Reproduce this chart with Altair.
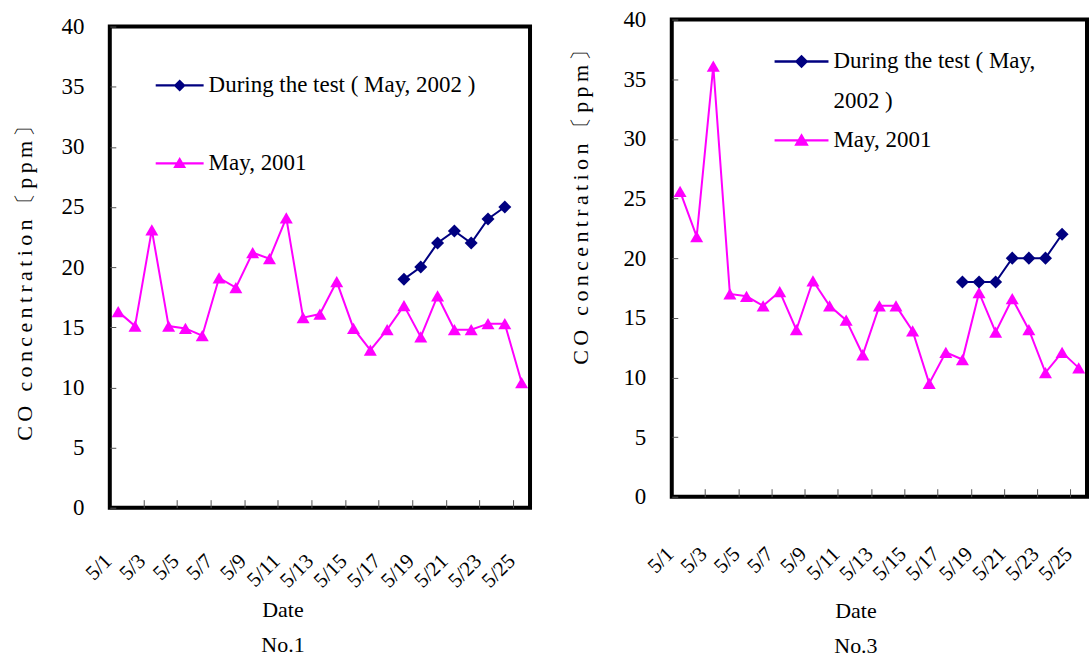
import json
import altair as alt
import pandas as pd

# ---------------- data ----------------
dates = ["5/1", "5/2", "5/3", "5/4", "5/5", "5/6", "5/7", "5/8", "5/9", "5/10",
         "5/11", "5/12", "5/13", "5/14", "5/15", "5/16", "5/17", "5/18", "5/19",
         "5/20", "5/21", "5/22", "5/23", "5/24", "5/25"]
days = [1, 2, 3, 4, 5, 6, 7, 8, 9, 10, 11, 12, 13, 14, 15, 16, 17, 18, 19, 20,
        21, 22, 23, 24, 25]
test_days = [18, 19, 20, 21, 22, 23, 24]

no1_may2001 = [16.3, 15.1, 23.1, 15.1, 14.9, 14.3, 19.1, 18.3, 21.2, 20.7, 24.1,
               15.8, 16.1, 18.8, 14.9, 13.1, 14.8, 16.8, 14.2, 17.6, 14.8, 14.8,
               15.3, 15.3, 10.4]
no1_test2002 = [19.0, 20.0, 22.0, 23.0, 22.0, 24.0, 25.0]

no3_may2001 = [25.6, 21.8, 36.1, 17.0, 16.8, 16.0, 17.2, 14.0, 18.1, 16.0, 14.8,
               11.9, 16.0, 16.0, 13.9, 9.5, 12.1, 11.5, 17.1, 13.8, 16.6, 14.0,
               10.4, 12.1, 10.8]
no3_test2002 = [18.0, 18.0, 18.0, 20.0, 20.0, 20.0, 22.0]

S_TEST = "During the test ( May, 2002 )"
S_2001 = "May, 2001"
series_names = [S_TEST, S_2001]
series_colors = ["#000080", "#FF00FF"]
series_shapes = ["diamond", "triangle-up"]
legend_paths = [
    "M-1,-0.045L1,-0.045L1,0.045L-1,0.045Z M0,-0.25L0.25,0L0,0.25L-0.25,0Z",
    "M-1,-0.045L1,-0.045L1,0.045L-1,0.045Z M0,-0.26L0.27,0.2L-0.27,0.2Z",
]
y_ticks = [0, 5, 10, 15, 20, 25, 30, 35, 40]

FONT = "Liberation Serif"
label_days = days[::2]
tick_days = [d + 0.5 for d in days[1:-1:2]]
axis_values = sorted(label_days + tick_days)
label_expr = "datum.value % 1 == 0 ? " + json.dumps(dates) + "[datum.value - 1] : ''"
y_title = "\u2009".join(list("CO concentration\u3014ppm\u3015"))


def panel(v2001, v2002, number, width, height, lab_pad, title_x, title_y,
          ytitle_pad, ytitle_y, lg_x, lg_y, lg_size, lg_rowpad, lg_label_expr=None):
    df01 = pd.DataFrame({"day": days, "value": v2001, "series": S_2001})
    df02 = pd.DataFrame({"day": test_days, "value": v2002, "series": S_TEST})
    data = pd.concat([df01, df02], ignore_index=True)

    xenc = alt.X(
        "day:Q",
        scale=alt.Scale(domain=[0.5, 25.5], nice=False, zero=False),
        axis=alt.Axis(
            values=axis_values, labelExpr=label_expr, labelAngle=-45,
            labelAlign="right", labelBaseline="middle", labelOverlap=False,
            labelFont=FONT, labelFontSize=21, labelColor="black",
            labelPadding=lab_pad, labelOffset=-10,
            tickSize=8, offset=-8, domain=False, grid=False, tickColor="#555",
            tickOpacity={"condition": {"test": "datum.value % 1 != 0", "value": 1}, "value": 0},
            title=["Date", number], titleFont=FONT, titleFontSize=22,
            titleFontWeight="normal", titleColor="black", titleLineHeight=35,
            titleX=title_x, titleY=title_y, titleBaseline="top", titleAlign="center",
        ),
    )
    yenc = alt.Y(
        "value:Q",
        scale=alt.Scale(domain=[0, 40], nice=False),
        axis=alt.Axis(
            values=y_ticks, labelFont=FONT, labelFontSize=23, labelColor="black",
            labelPadding=26, tickSize=6, offset=-6, domain=False, grid=False,
            tickColor="#555", title=y_title, titleFont=FONT, titleFontSize=22,
            titleFontWeight="normal", titleColor="black", titlePadding=ytitle_pad,
            titleY=ytitle_y,
        ),
    )
    color = alt.Color("series:N", scale=alt.Scale(domain=series_names, range=series_colors), legend=None)
    base = alt.Chart(data).encode(x=xenc, y=yenc, color=color)
    lines = base.mark_line(strokeWidth=2)
    points = base.mark_point(filled=True, size=170, opacity=1).encode(
        shape=alt.Shape("series:N", scale=alt.Scale(domain=series_names, range=series_shapes), legend=None)
    )
    lg_kwargs = dict(
        orient="none", legendX=lg_x, legendY=lg_y, title=None, padding=0,
        labelFont=FONT, labelFontSize=23, labelColor="black", labelLimit=500,
        labelOffset=5, symbolSize=lg_size, symbolStrokeWidth=0, rowPadding=lg_rowpad,
    )
    if lg_label_expr:
        lg_kwargs["labelExpr"] = lg_label_expr
    lg = alt.Legend(**lg_kwargs)
    legend_layer = alt.Chart(data).transform_filter("false").mark_point(
        filled=True, size=lg_size, opacity=1
    ).encode(
        x=xenc, y=yenc,
        fill=alt.Fill("series:N", scale=alt.Scale(domain=series_names, range=series_colors), legend=lg),
        shape=alt.Shape("series:N", scale=alt.Scale(domain=series_names, range=legend_paths), legend=lg),
    )
    return alt.layer(lines, points, legend_layer).resolve_scale(
        shape="independent", fill="independent"
    ).properties(width=width, height=height)


left = panel(no1_may2001, no1_test2002, "No.1", 421, 482, 50, 173, 100,
             24, 251, 46, 35, 2304, 42)
right_expr = ("datum.label == '" + S_TEST + "' ? ['During the test ( May,', '2002 )'] : datum.label")
right = panel(no3_may2001, no3_test2002, "No.3", 416, 478, 54, 184, 112,
              30, 182, 103, 15, 2916, -3, lg_label_expr=right_expr)

# empty spacer that pushes the No.1 panel a few pixels lower than No.3
spacer = alt.Chart(pd.DataFrame({"v": [0]})).transform_filter("false").mark_point().properties(
    width=421, height=1, view=alt.ViewBackground(stroke="transparent")
)
left_col = alt.vconcat(spacer, left, spacing=6, bounds="flush")

chart = alt.hconcat(left_col, right, spacing=36).properties(
    padding={"left": 12, "top": 6, "right": 0, "bottom": 0}
).configure(
    background="white",
    style={"guide-label": {"lineHeight": 40}},
).configure_view(stroke="black", strokeWidth=4)

chart.save("out.html", embed_options={"renderer": "svg", "actions": False})
